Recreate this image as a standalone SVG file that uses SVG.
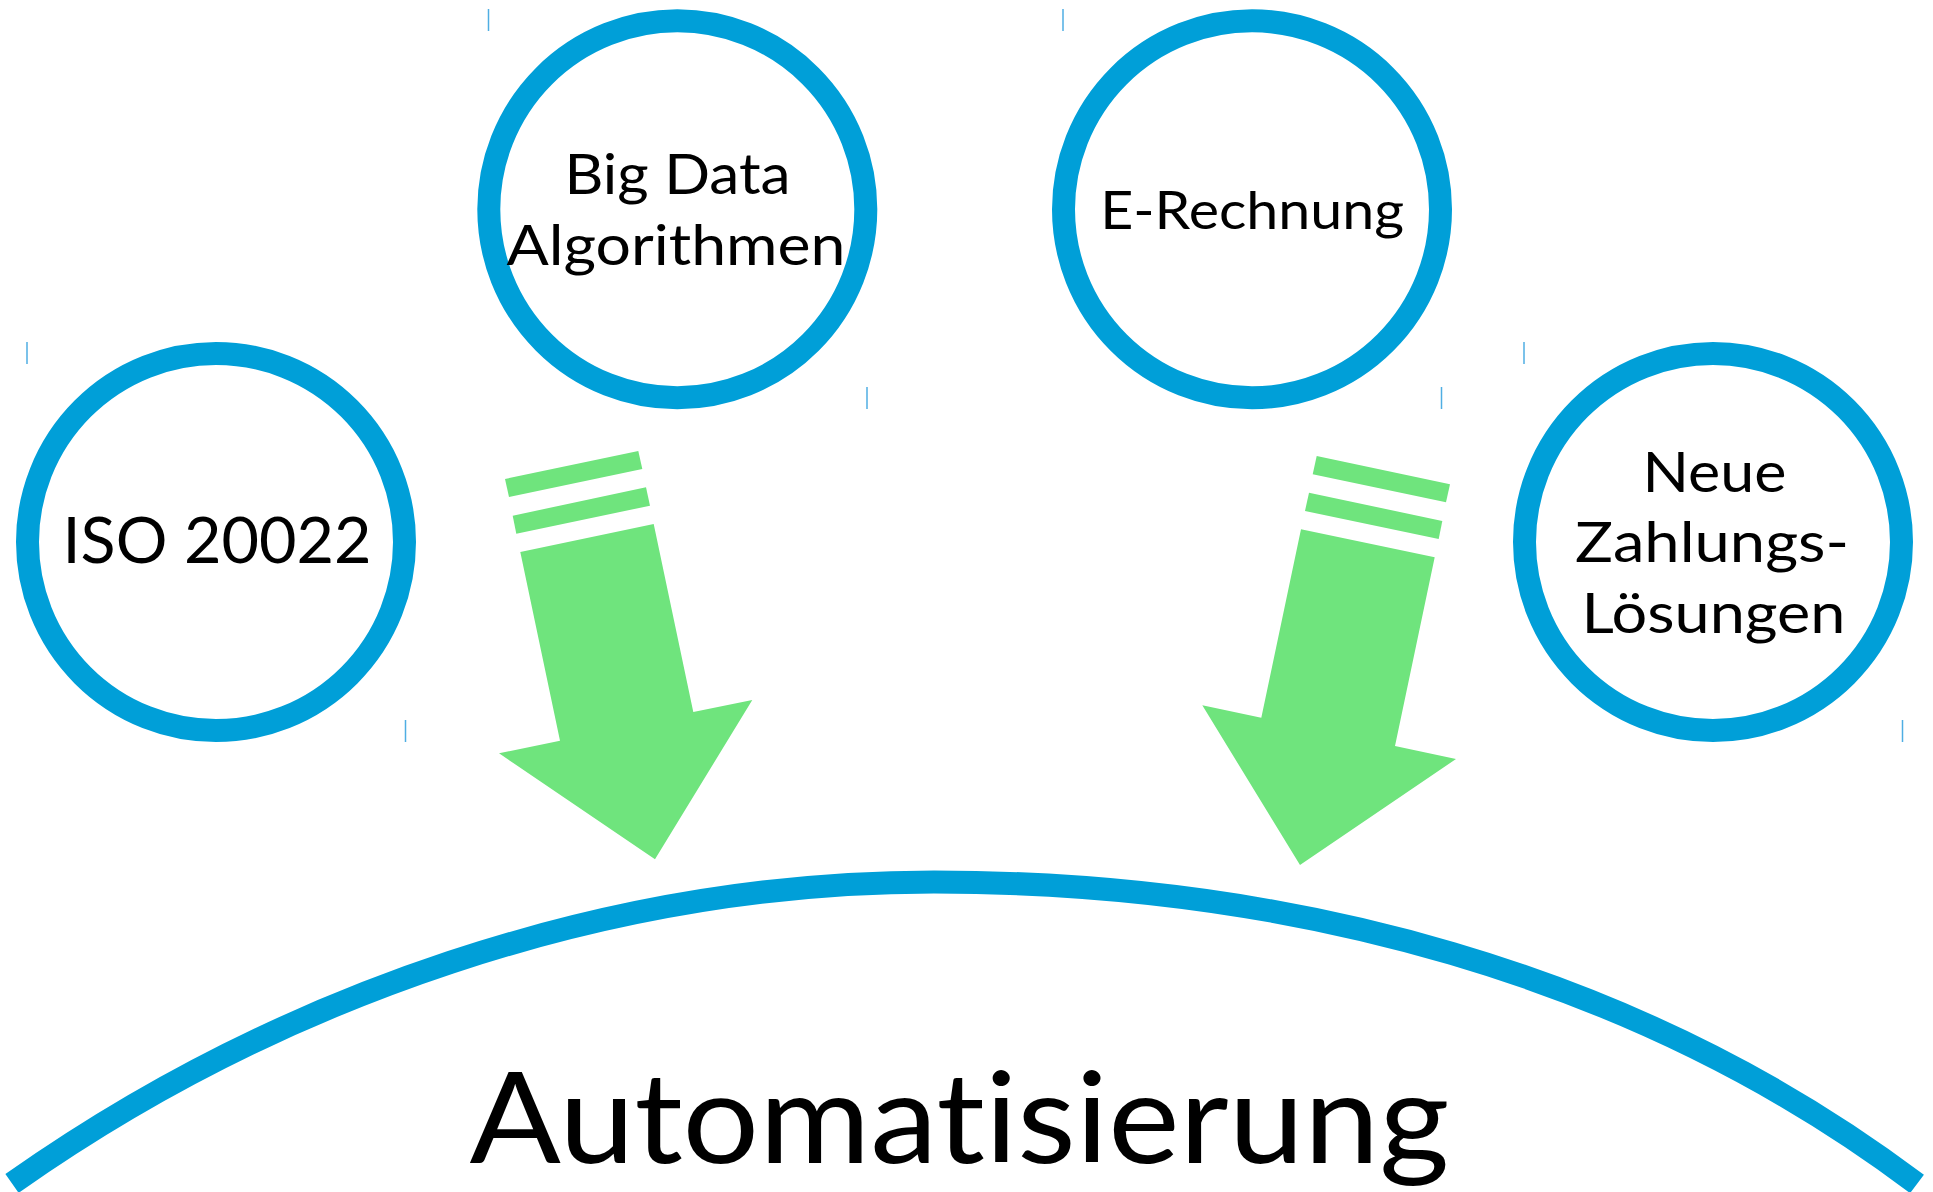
<svg xmlns="http://www.w3.org/2000/svg" width="1933" height="1192" viewBox="0 0 1933 1192">
  <style>
    .ring { fill: #ffffff; stroke: #009FD8; stroke-width: 23; }
    .tick { stroke: #4FAEE3; stroke-width: 1.5; }
    .lbl { font-family: Lato, "Open Sans", "Liberation Sans", sans-serif; fill: #000000; text-anchor: middle; font-variant-ligatures: none; font-feature-settings: "liga" 0, "clig" 0; }
    .arrow { fill: #6FE47D; }
    .base { fill: none; stroke: #009FD8; stroke-width: 23; stroke-linecap: butt; }
  </style>
  <rect width="1933" height="1192" fill="#ffffff"/>

  <g id="connectors">
    <g id="arrow-left">
      <polygon class="arrow" points="505,479 638.3,451 642.3,469 509,497"/>
      <polygon class="arrow" points="512.7,515.7 646,487.3 650,505.7 516.3,533.7"/>
      <polygon class="arrow" points="520.3,552 653.7,524 693.3,712 752.3,700 655,859.3 499,753.3 560,740.7"/>
    </g>
    <g id="arrow-right">
      <polygon class="arrow" points="1316.7,456 1450,484.3 1446,502.3 1312.7,474.3"/>
      <polygon class="arrow" points="1309,492.7 1442.3,521 1438.7,539 1305,511"/>
      <polygon class="arrow" points="1301,529.3 1434.7,557.3 1395,746 1456,759 1300,865 1202.3,705.3 1261.3,717.7"/>
    </g>
  </g>

  <g id="node-iso">
    <circle class="ring" cx="216" cy="542" r="188.5"/>
    <line class="tick" x1="27" y1="342" x2="27" y2="364"/>
    <line class="tick" x1="405.5" y1="720" x2="405.5" y2="742"/>
    <text class="lbl" x="217" y="563" font-size="63" textLength="309" lengthAdjust="spacingAndGlyphs">ISO 20022</text>
  </g>

  <g id="node-bigdata">
    <circle class="ring" cx="677.3" cy="209.3" r="188.5"/>
    <line class="tick" x1="488.5" y1="9" x2="488.5" y2="31"/>
    <line class="tick" x1="867" y1="387" x2="867" y2="409"/>
    <text class="lbl" x="677.5" y="194" font-size="57" textLength="226" lengthAdjust="spacingAndGlyphs">Big Data</text>
    <text class="lbl" x="676" y="265" font-size="57" textLength="339" lengthAdjust="spacingAndGlyphs">Algorithmen</text>
  </g>

  <g id="node-erechnung">
    <circle class="ring" cx="1252" cy="209.3" r="188.5"/>
    <line class="tick" x1="1063" y1="9" x2="1063" y2="31"/>
    <line class="tick" x1="1441.5" y1="387" x2="1441.5" y2="409"/>
    <text class="lbl" x="1252.2" y="228.7" font-size="53" textLength="304" lengthAdjust="spacingAndGlyphs">E-Rechnung</text>
  </g>

  <g id="node-neue">
    <circle class="ring" cx="1713" cy="542" r="188.5"/>
    <line class="tick" x1="1524" y1="342" x2="1524" y2="364"/>
    <line class="tick" x1="1902.5" y1="720" x2="1902.5" y2="742"/>
    <text class="lbl" x="1714.5" y="491.7" font-size="56" textLength="144" lengthAdjust="spacingAndGlyphs">Neue</text>
    <text class="lbl" x="1712" y="561.7" font-size="56" textLength="274" lengthAdjust="spacingAndGlyphs">Zahlungs-</text>
    <text class="lbl" x="1713.5" y="632.7" font-size="56" textLength="264" lengthAdjust="spacingAndGlyphs">Lösungen</text>
  </g>

  <g id="node-automatisierung">
    <path class="base" d="M12,1183.5 C278.4,995.6 608,882 934,882 C1286,882 1636,972 1917,1184"/>
    <text class="lbl" x="959.5" y="1163.3" font-size="126.6" textLength="980" lengthAdjust="spacingAndGlyphs">Automatisierung</text>
  </g>
</svg>
